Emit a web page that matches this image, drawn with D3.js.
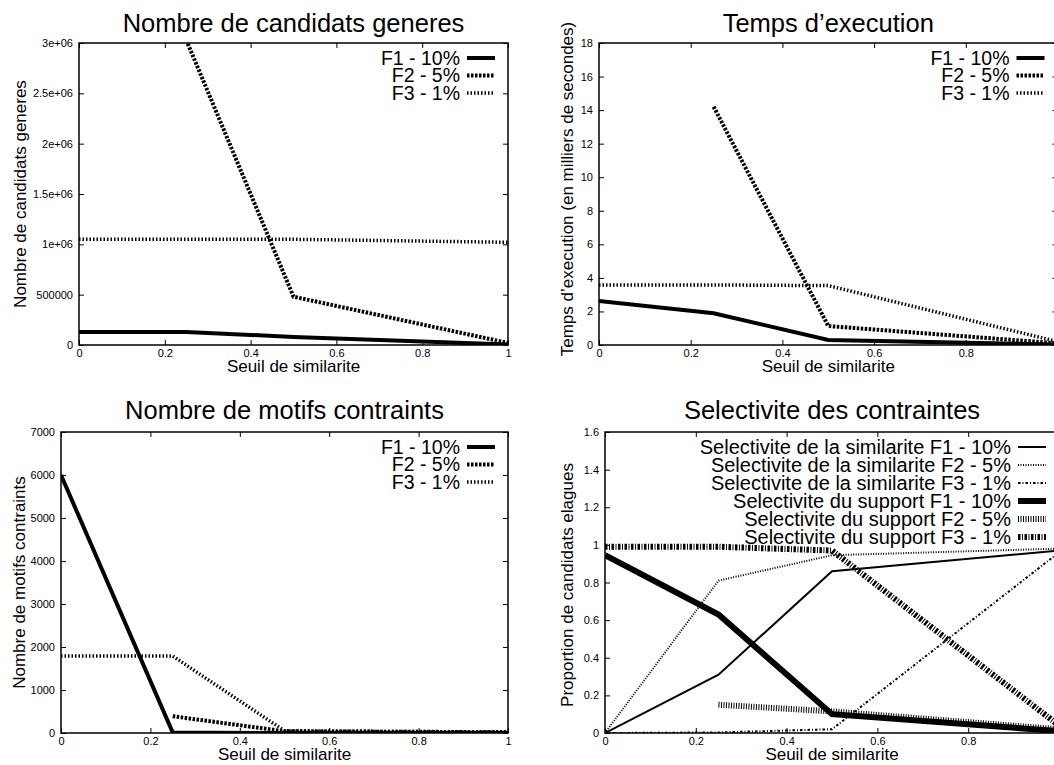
<!DOCTYPE html>
<html><head><meta charset="utf-8">
<script src="https://cdn.jsdelivr.net/npm/d3@7"></script>
<style>
body{margin:0;background:#fff;overflow:hidden}
svg{display:block}
text{font-family:"Liberation Sans",Arial,Helvetica,sans-serif;fill:#000}
</style>
</head><body>
<svg id="c" width="1054" height="765"></svg>
<script>
// ---------- data ----------
const xThresholds = [0, 0.25, 0.5, 1];
const xTickValues = [0, 0.2, 0.4, 0.6, 0.8, 1];
const xTickLabels = ["0", "0.2", "0.4", "0.6", "0.8", "1"];

const seriesNames = ["F1 - 10%", "F2 - 5%", "F3 - 1%"];

const candidatsF1 = [130000, 130000, 80000, 5000];
const candidatsF2 = [null, 3030000, 480000, 20000];
const candidatsF3 = [1050000, 1050000, 1050000, 1020000];
const candidatsTicks = [0, 500000, 1000000, 1500000, 2000000, 2500000, 3000000];
const candidatsTickLabels = ["0", "500000", "1e+06", "1.5e+06", "2e+06", "2.5e+06", "3e+06"];

const tempsF1 = [2.62, 1.89, 0.3, 0.02];
const tempsF2 = [null, 14.2, 1.13, 0.1];
const tempsF3 = [3.58, 3.58, 3.54, 0.2];
const tempsTicks = [0, 2, 4, 6, 8, 10, 12, 14, 16, 18];
const tempsTickLabels = ["0", "2", "4", "6", "8", "10", "12", "14", "16", "18"];

const motifsF1 = [6000, 10, 0, 0];
const motifsF2 = [null, 390, 40, 20];
const motifsF3 = [1790, 1790, 50, 20];
const motifsTicks = [0, 1000, 2000, 3000, 4000, 5000, 6000, 7000];
const motifsTickLabels = ["0", "1000", "2000", "3000", "4000", "5000", "6000", "7000"];

const selNames = [
  "Selectivite de la similarite F1 - 10%",
  "Selectivite de la similarite F2 - 5%",
  "Selectivite de la similarite F3 - 1%",
  "Selectivite du support F1 - 10%",
  "Selectivite du support F2 - 5%",
  "Selectivite du support F3 - 1%"
];
const selSimF1 = [0, 0.31, 0.86, 0.97];
const selSimF2 = [0, 0.81, 0.945, 0.98];
const selSimF3 = [0, 0.003, 0.02, 0.96];
const selSupF1 = [0.945, 0.63, 0.10, 0.01];
const selSupF2 = [null, 0.15, 0.115, 0.02];
const selSupF3 = [0.99, 0.99, 0.97, 0.04];
const selTicks = [0, 0.2, 0.4, 0.6, 0.8, 1, 1.2, 1.4, 1.6];
const selTickLabels = ["0", "0.2", "0.4", "0.6", "0.8", "1", "1.2", "1.4", "1.6"];

// ---------- styles ----------
const st = {
  thick:    {w: 4,   dash: null},
  dashed:   {w: 4,   dash: "2.5,1.5"},
  dotted:   {w: 3.5, dash: "1.5,2"},
  thin:     {w: 2,   dash: null},
  thinDot:  {w: 2,   dash: "1,1.5"},
  thinDD:   {w: 2,   dash: "2.5,2,1,2"},
  fat:      {w: 6,   dash: null},
  fatDot:   {w: 6,   dash: "1,1.5"},
  fatDD:    {w: 6,   dash: "2.5,1.5,1,1.5"}
};

const W = 1054;

const panels = [
  {id: "p1", title: "Nombre de candidats generes", ylabel: "Nombre de candidats generes",
   left: 79, right: 508, top: 43, bottom: 345, titleY: 32, ylabelX: 26, ylabelY: 194,
   ymax: 3000000, yticks: candidatsTicks, ytickLabels: candidatsTickLabels,
   series: [[candidatsF1, st.thick], [candidatsF2, st.dashed], [candidatsF3, st.dotted]],
   names: seriesNames, legendStep: 17.5, legendFont: 19.5},
  {id: "p2", title: "Temps d\u2019execution", ylabel: "Temps d\u2019execution (en milliers de secondes)",
   left: 599, right: 1057.5, top: 43, bottom: 345, titleY: 32, ylabelX: 573, ylabelY: 189,
   ymax: 18, yticks: tempsTicks, ytickLabels: tempsTickLabels,
   series: [[tempsF1, st.thick], [tempsF2, st.dashed], [tempsF3, st.dotted]],
   names: seriesNames, legendStep: 17.5, legendFont: 19.5},
  {id: "p3", title: "Nombre de motifs contraints", ylabel: "Nombre de motifs contraints",
   left: 61, right: 508, top: 432, bottom: 733, titleY: 419, ylabelX: 25, ylabelY: 582.5,
   ymax: 7000, yticks: motifsTicks, ytickLabels: motifsTickLabels,
   series: [[motifsF1, st.thick], [motifsF2, st.dashed], [motifsF3, st.dotted]],
   names: seriesNames, legendStep: 17.5, legendFont: 19.5},
  {id: "p4", title: "Selectivite des contraintes", ylabel: "Proportion de candidats elagues",
   left: 605, right: 1059, top: 432, bottom: 733, titleY: 419, ylabelX: 573, ylabelY: 585,
   ymax: 1.6, yticks: selTicks, ytickLabels: selTickLabels,
   series: [[selSimF1, st.thin], [selSimF2, st.thinDot], [selSimF3, st.thinDD],
            [selSupF1, st.fat], [selSupF2, st.fatDot], [selSupF3, st.fatDD]],
   names: selNames, legendStep: 18, legendFont: 20}
];

const svg = d3.select("#c");

panels.forEach(p => {
  const g = svg.append("g");
  const x = d3.scaleLinear().domain([0, 1]).range([p.left, p.right]);
  const y = d3.scaleLinear().domain([0, p.ymax]).range([p.bottom, p.top]);

  svg.append("clipPath").attr("id", "clip-" + p.id)
    .append("rect").attr("x", p.left).attr("y", p.top)
    .attr("width", p.right - p.left).attr("height", p.bottom - p.top);

  const tl = 5;
  const bx = d3.axisBottom(x).tickValues(xTickValues).tickSizeInner(-tl).tickSizeOuter(0)
    .tickPadding(4).tickFormat((d, i) => x(d) + 4 <= W ? xTickLabels[i] : "");
  const tx = d3.axisTop(x).tickValues(xTickValues).tickSizeInner(-tl).tickSizeOuter(0).tickFormat("");
  const ly = d3.axisLeft(y).tickValues(p.yticks).tickSizeInner(-tl).tickSizeOuter(0)
    .tickPadding(6).tickFormat((d, i) => p.ytickLabels[i]);
  const ry = d3.axisRight(y).tickValues(p.yticks).tickSizeInner(-tl).tickSizeOuter(0).tickFormat("");

  const axes = [
    g.append("g").attr("transform", `translate(0,${p.bottom})`).call(bx),
    g.append("g").attr("transform", `translate(0,${p.top})`).call(tx),
    g.append("g").attr("transform", `translate(${p.left},0)`).call(ly),
    g.append("g").attr("transform", `translate(${p.right},0)`).call(ry)
  ];
  axes.forEach(a => {
    a.select(".domain").remove();
    a.selectAll("line").attr("stroke", "#000").attr("stroke-width", 1);
    a.selectAll("text").attr("font-size", 11).attr("fill", "#000")
      .attr("font-family", '"Liberation Sans",Arial,sans-serif');
    a.selectAll("text").filter(function(){ return this.textContent === ""; }).remove();
  });

  g.append("rect").attr("x", p.left).attr("y", p.top)
    .attr("width", p.right - p.left).attr("height", p.bottom - p.top)
    .attr("fill", "none").attr("stroke", "#000").attr("stroke-width", 1.5);

  const cx = (p.left + p.right) / 2;
  g.append("text").attr("x", cx).attr("y", p.titleY).attr("text-anchor", "middle")
    .attr("font-size", 25.5).text(p.title);
  g.append("text").attr("x", cx).attr("y", p.bottom + 26.5).attr("text-anchor", "middle")
    .attr("font-size", 17).text("Seuil de similarite");
  g.append("text").attr("transform", `translate(${p.ylabelX},${p.ylabelY}) rotate(-90)`)
    .attr("text-anchor", "middle").attr("font-size", 17).text(p.ylabel);

  const line = d3.line()
    .defined(d => d[1] !== null)
    .x(d => x(d[0])).y(d => y(d[1]));
  const lg = g.append("g").attr("clip-path", `url(#clip-${p.id})`);
  p.series.forEach(([vals, s]) => {
    const pts = xThresholds.map((xv, k) => [xv, vals[k]]);
    lg.append("path").datum(pts).attr("d", line)
      .attr("fill", "none").attr("stroke", "#000")
      .attr("stroke-width", s.w).attr("stroke-dasharray", s.dash)
      .attr("stroke-linejoin", "miter");
  });

  const leg = g.append("g");
  p.names.forEach((n, i) => {
    const yy = p.top + 15 + i * p.legendStep;
    const s = p.series[i][1];
    leg.append("text").attr("x", p.right - 48).attr("y", yy).attr("dy", "0.35em")
      .attr("text-anchor", "end").attr("font-size", p.legendFont).text(n);
    leg.append("line").attr("x1", p.right - 41).attr("x2", p.right - 13)
      .attr("y1", yy).attr("y2", yy)
      .attr("stroke", "#000").attr("stroke-width", s.w).attr("stroke-dasharray", s.dash);
  });
});
</script>
</body></html>
